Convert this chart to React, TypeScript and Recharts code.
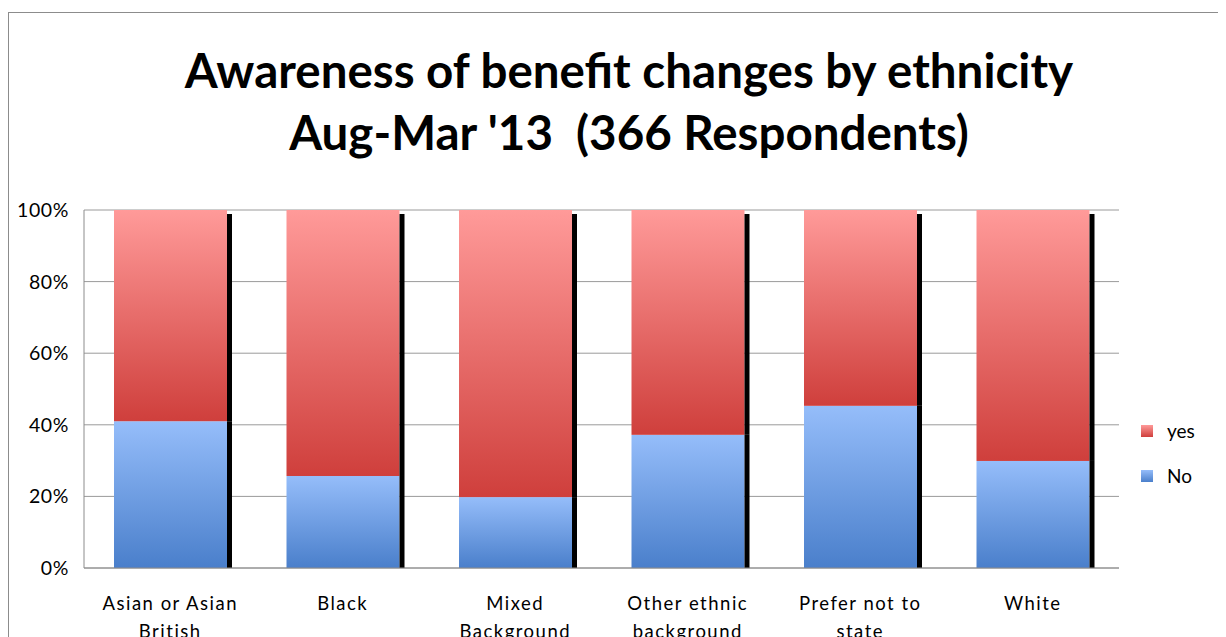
import React from "react";
import { BarChart, Bar, XAxis, YAxis, CartesianGrid } from "recharts";

const categories = [
  "Asian or Asian British",
  "Black",
  "Mixed Background",
  "Other ethnic background",
  "Prefer not to state",
  "White",
];
const noValues = [41, 25.7, 19.8, 37.2, 45.3, 29.9];
const yesValues = [59, 74.3, 80.2, 62.8, 54.7, 70.1];
const yTicks = [0, 20, 40, 60, 80, 100];
const titleLines = ["Awareness of benefit changes by ethnicity", "Aug-Mar '13  (366 Respondents)"];
const legendItems = ["yes", "No"];

const data = categories.map((c, i) => ({ name: c, No: noValues[i], yes: yesValues[i] }));

const FONT = "Lato, 'Noto Sans', sans-serif";

const makeShape = (isTop: boolean) => (props: any) => {
  const { x, y, width, height, fill } = props;
  if (height == null || width == null) return null;
  const off = isTop ? 4 : 0;
  return (
    <g>
      <rect x={x} y={y} width={width} height={height} fill={fill} />
      <rect x={x + width} y={y + off} width={5} height={Math.max(0, height - off)} fill="#000" />
    </g>
  );
};

const XTick = (props: any) => {
  const { x, y, payload } = props;
  const words = String(payload.value).split(" ");
  const lines: string[] = [];
  let cur = "";
  for (const w of words) {
    const t = cur ? cur + " " + w : w;
    if (t.length > 14 && cur) {
      lines.push(cur);
      cur = w;
    } else cur = t;
  }
  if (cur) lines.push(cur);
  return (
    <text x={x} y={y + 34} textAnchor="middle" fontFamily={FONT} fontSize={18.5} fill="#000" letterSpacing={1.5}>
      {lines.map((l, i) => (
        <tspan key={i} x={x} dy={i === 0 ? 0 : 28}>
          {l}
        </tspan>
      ))}
    </text>
  );
};

const legendGradients: Record<string, string> = {
  yes: "linear-gradient(#FF9A99, #CF3F3C)",
  No: "linear-gradient(#95BDFA, #4A7FCB)",
};

export default function App() {
  return (
    <div style={{ position: "relative", width: 1218, height: 629, overflow: "hidden" }}>
      <div
        style={{
          position: "absolute",
          left: 0,
          top: 4,
          width: 1300,
          height: 700,
          border: "1px solid #8c8c8c",
          boxSizing: "border-box",
        }}
      />
      <div
        style={{
          position: "absolute",
          left: 24,
          top: 31,
          width: 1194,
          textAlign: "center",
          fontFamily: FONT,
          fontWeight: 700,
          fontSize: 47.5,
          lineHeight: "62px",
          color: "#000",
        }}
      >
        {titleLines.map((t, i) => (
          <div key={i} style={{ whiteSpace: "pre" }}>
            {t}
          </div>
        ))}
      </div>
      <div style={{ position: "absolute", left: 0, top: 0 }}>
        <BarChart
          width={1218}
          height={629}
          data={data}
          margin={{ top: 202, right: 107, bottom: 0, left: 0 }}
          barSize={113}
        >
          <defs>
            <linearGradient id="gBlue" x1="0" y1="0" x2="0" y2="1">
              <stop offset="0%" stopColor="#95BDFA" />
              <stop offset="100%" stopColor="#4A7FCB" />
            </linearGradient>
            <linearGradient id="gRed" x1="0" y1="0" x2="0" y2="1">
              <stop offset="0%" stopColor="#FF9A99" />
              <stop offset="100%" stopColor="#CF3F3C" />
            </linearGradient>
          </defs>
          <CartesianGrid vertical={false} stroke="#9a9a9a" strokeWidth={1} />
          <XAxis
            dataKey="name"
            height={69}
            tickLine={false}
            axisLine={{ stroke: "#8c8c8c" }}
            tick={<XTick />}
            interval={0}
          />
          <YAxis
            width={76}
            domain={[0, 100]}
            ticks={yTicks}
            tickLine={false}
            axisLine={{ stroke: "#8c8c8c" }}
            tickFormatter={(v: number) => `${v}%`}
            tick={{ fontFamily: FONT, fontSize: 19.5, fill: "#000", letterSpacing: 0.6 }}
            tickMargin={9}
          />
          <Bar dataKey="No" stackId="a" fill="url(#gBlue)" shape={makeShape(false)} isAnimationActive={false} />
          <Bar dataKey="yes" stackId="a" fill="url(#gRed)" shape={makeShape(true)} isAnimationActive={false} />
        </BarChart>
      </div>
      <div
        style={{
          position: "absolute",
          left: 1133,
          top: 400,
          fontFamily: FONT,
          fontSize: 19,
          color: "#000",
        }}
      >
        {legendItems.map((k) => (
          <div key={k} style={{ display: "flex", alignItems: "center", height: 45 }}>
            <div style={{ width: 12, height: 12, background: legendGradients[k], marginRight: 14 }} />
            <span>{k}</span>
          </div>
        ))}
      </div>
    </div>
  );
}
